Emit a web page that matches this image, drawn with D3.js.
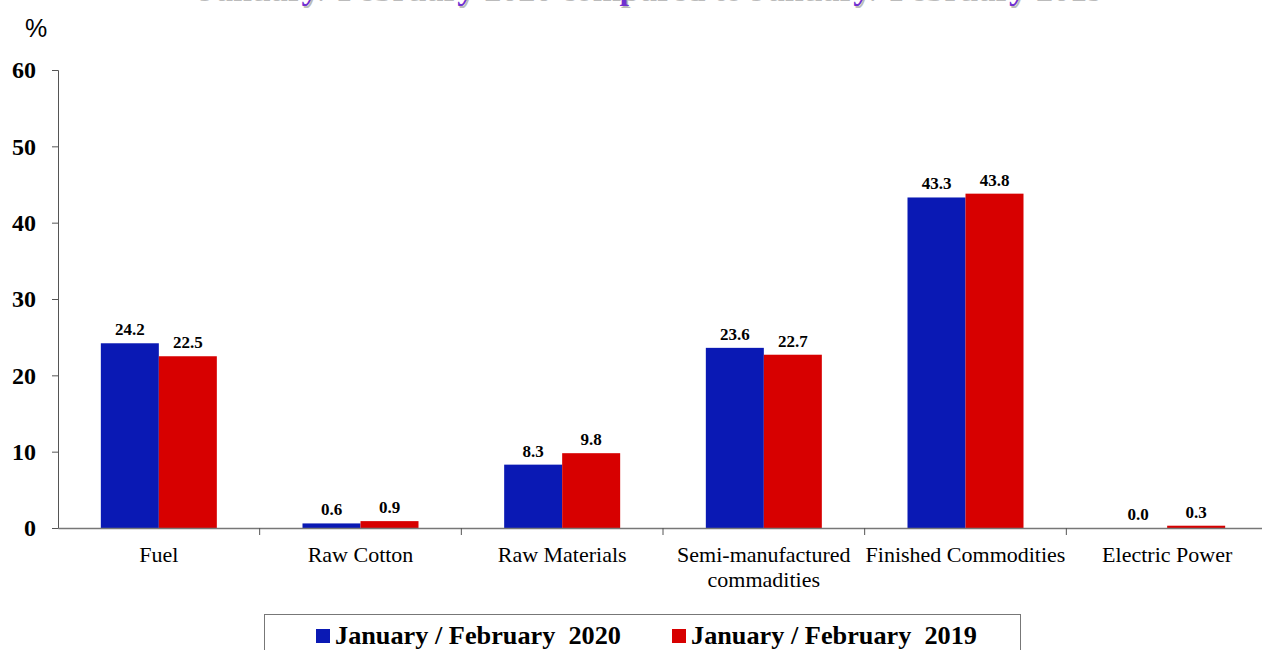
<!doctype html>
<html>
<head>
<meta charset="utf-8">
<script src="https://cdnjs.cloudflare.com/ajax/libs/d3/7.8.5/d3.min.js"></script>
<style>
  body { margin: 0; background: #fff; }
  svg { display: block; }
  .serif { font-family: "Liberation Serif", "Times New Roman", serif; }
</style>
</head>
<body>
<svg id="chart" width="1262" height="650"></svg>
<script>
var categories = ["Fuel", "Raw Cotton", "Raw Materials", "Semi-manufactured|commadities", "Finished Commodities", "Electric Power"];
var series2020 = [24.2, 0.6, 8.3, 23.6, 43.3, 0.0];
var series2019 = [22.5, 0.9, 9.8, 22.7, 43.8, 0.3];
var seriesNames = ["January / February  2020", "January / February  2019"];
var yTicks = [0, 10, 20, 30, 40, 50, 60];
var colors = ["#0a19b4", "#d70000"];

var svg = d3.select("#chart");

// title, mostly clipped off the top like the original
svg.append("text")
  .attr("class", "serif")
  .attr("x", 650).attr("y", -1)
  .attr("text-anchor", "middle")
  .style("font-weight", "bold")
  .style("font-size", "34px")
  .style("fill", "#bbb")
  .attr("dx", 1.5).attr("dy", 1.5)
  .text("January/ February 2020 compared to January/ February 2019");
svg.append("text")
  .attr("class", "serif")
  .attr("x", 650).attr("y", -1)
  .attr("text-anchor", "middle")
  .style("font-weight", "bold")
  .style("font-size", "34px")
  .style("fill", "#7030d0")
  .text("January/ February 2020 compared to January/ February 2019");

var x = d3.scaleBand().domain(categories).range([58, 1268]);
var y = d3.scaleLinear().domain([0, 60]).range([528, 70]);
var inner = d3.scaleBand().domain([0, 1]).range([0, 116]);

// y axis
var yAxis = svg.append("g")
  .attr("transform", "translate(58,0)")
  .call(d3.axisLeft(y).tickValues(yTicks).tickSize(6).tickPadding(16));
yAxis.select(".domain").attr("stroke", "#555");
yAxis.selectAll(".tick line").attr("stroke", "#555");
yAxis.selectAll("text")
  .attr("class", "serif")
  .attr("font-family", null)
  .style("font-weight", "bold")
  .style("font-size", "24px")
  .attr("fill", "#000");

svg.append("text")
  .attr("x", 36).attr("y", 37)
  .attr("text-anchor", "middle")
  .style("font-family", "'Liberation Sans', Arial, sans-serif")
  .style("font-size", "25px")
  .text("%");

// bars
var groups = svg.selectAll("g.cat")
  .data(categories.map(function(c, i) { return { cat: c, vals: [series2020[i], series2019[i]] }; }))
  .enter().append("g")
  .attr("class", "cat")
  .attr("transform", function(d) { return "translate(" + (x(d.cat) + x.bandwidth() / 2 - 58) + ",0)"; });

groups.selectAll("rect")
  .data(function(d) { return d.vals; })
  .enter().append("rect")
  .attr("x", function(d, i) { return inner(i); })
  .attr("width", inner.bandwidth())
  .attr("y", function(d) { return y(d); })
  .attr("height", function(d) { return y(0) - y(d); })
  .attr("fill", function(d, i) { return colors[i]; });

groups.selectAll("text.val")
  .data(function(d) { return d.vals; })
  .enter().append("text")
  .attr("class", "val serif")
  .attr("x", function(d, i) { return inner(i) + inner.bandwidth() / 2; })
  .attr("y", function(d) { return y(d) - 8; })
  .attr("text-anchor", "middle")
  .style("font-weight", "bold")
  .style("font-size", "17px")
  .text(function(d) { return d.toFixed(1); });

// x axis
var xAxis = svg.append("g")
  .attr("transform", "translate(0,528)")
  .call(d3.axisBottom(x).tickSize(0).tickFormat(""));
xAxis.select(".domain").attr("stroke", "#777").attr("stroke-width", 1.5);
xAxis.selectAll(".tick").remove();

svg.selectAll("line.sep")
  .data(categories.slice(1))
  .enter().append("line")
  .attr("class", "sep")
  .attr("x1", function(d) { return x(d); })
  .attr("x2", function(d) { return x(d); })
  .attr("y1", 528).attr("y2", 535)
  .attr("stroke", "#555");

svg.selectAll("text.catlab")
  .data(categories)
  .enter().append("text")
  .attr("class", "catlab serif")
  .attr("x", function(d) { return x(d) + x.bandwidth() / 2; })
  .attr("y", 562)
  .attr("text-anchor", "middle")
  .style("font-size", "22px")
  .each(function(d) {
    var lines = d.split("|");
    var t = d3.select(this);
    lines.forEach(function(l, i) {
      t.append("tspan")
        .attr("x", x(d) + x.bandwidth() / 2)
        .attr("dy", i === 0 ? 0 : 25)
        .text(l);
    });
  });

// legend
svg.append("rect")
  .attr("x", 264.5).attr("y", 614.5)
  .attr("width", 756).attr("height", 50)
  .attr("fill", "#fff").attr("stroke", "#777");

var legendX = [316, 672];
seriesNames.forEach(function(n, i) {
  svg.append("rect")
    .attr("x", legendX[i]).attr("y", 629)
    .attr("width", 14).attr("height", 14)
    .attr("fill", colors[i]);
  svg.append("text")
    .attr("class", "serif")
    .attr("x", legendX[i] + 19).attr("y", 644)
    .attr("textLength", 286)
    .attr("lengthAdjust", "spacingAndGlyphs")
    .style("font-weight", "bold")
    .style("font-size", "26px")
    .style("white-space", "pre")
    .text(n);
});
</script>
</body>
</html>
